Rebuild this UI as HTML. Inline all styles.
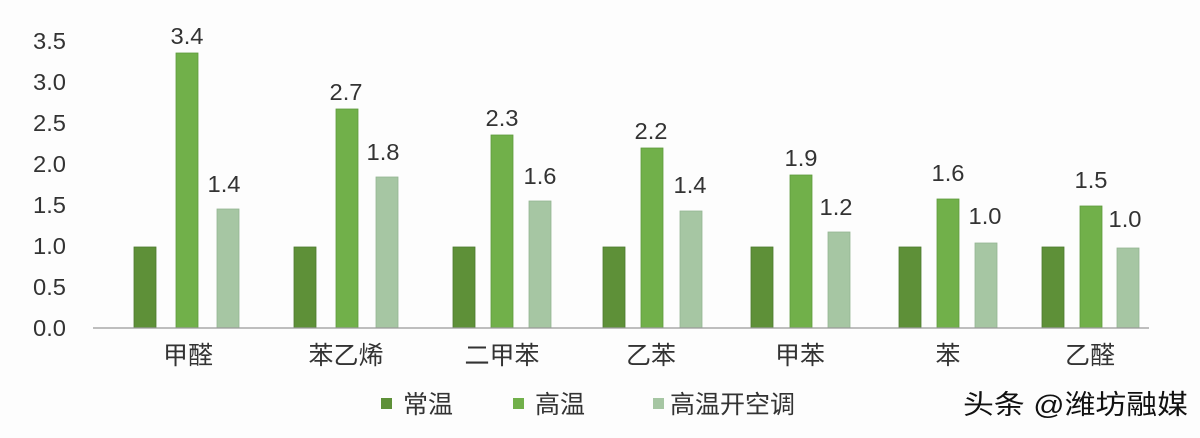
<!DOCTYPE html>
<html><head><meta charset="utf-8"><style>
html,body{margin:0;padding:0;background:#fdfdfd;}
svg{display:block}
text{font-family:"Liberation Sans","Noto Sans CJK SC",sans-serif;fill:#333}
</style></head><body>
<svg width="1200" height="438" viewBox="0 0 1200 438" xmlns="http://www.w3.org/2000/svg">
<rect width="1200" height="438" fill="#fdfdfd"/>
<g font-size="23" text-anchor="end">
<text x="66" y="336" textLength="33" lengthAdjust="spacingAndGlyphs">0.0</text>
<text x="66" y="295" textLength="33" lengthAdjust="spacingAndGlyphs">0.5</text>
<text x="66" y="254" textLength="33" lengthAdjust="spacingAndGlyphs">1.0</text>
<text x="66" y="213" textLength="33" lengthAdjust="spacingAndGlyphs">1.5</text>
<text x="66" y="172" textLength="33" lengthAdjust="spacingAndGlyphs">2.0</text>
<text x="66" y="131" textLength="33" lengthAdjust="spacingAndGlyphs">2.5</text>
<text x="66" y="90" textLength="33" lengthAdjust="spacingAndGlyphs">3.0</text>
<text x="66" y="49" textLength="33" lengthAdjust="spacingAndGlyphs">3.5</text>
</g>
<g stroke-width="0.8">
<!-- dark -->
<g fill="#5e9038" stroke="#4d7a2d">
<rect x="134" y="247" width="22" height="81"/>
<rect x="294" y="247" width="22" height="81"/>
<rect x="453" y="247" width="22" height="81"/>
<rect x="603" y="247" width="22" height="81"/>
<rect x="751" y="247" width="22" height="81"/>
<rect x="899" y="247" width="22" height="81"/>
<rect x="1042" y="247" width="22" height="81"/>
</g>
<g fill="#71b04a" stroke="#5e9a3c">
<rect x="176" y="53" width="22" height="275"/>
<rect x="336" y="109" width="22" height="219"/>
<rect x="491" y="135" width="22" height="193"/>
<rect x="641" y="148" width="22" height="180"/>
<rect x="790" y="175" width="22" height="153"/>
<rect x="937" y="199" width="22" height="129"/>
<rect x="1080" y="206" width="22" height="122"/>
</g>
<g fill="#a6c6a3" stroke="#94b592">
<rect x="217" y="209" width="22" height="119"/>
<rect x="376" y="177" width="22" height="151"/>
<rect x="529" y="201" width="22" height="127"/>
<rect x="680" y="211" width="22" height="117"/>
<rect x="828" y="232" width="22" height="96"/>
<rect x="975" y="243" width="22" height="85"/>
<rect x="1117" y="248" width="22" height="80"/>
</g>
</g>
<line x1="93" y1="328" x2="1149" y2="328" stroke="#999" stroke-width="1.2"/>
<g font-size="23" text-anchor="middle">
<text x="187" y="44" textLength="33" lengthAdjust="spacingAndGlyphs">3.4</text>
<text x="224" y="192" textLength="33" lengthAdjust="spacingAndGlyphs">1.4</text>
<text x="346" y="100" textLength="33" lengthAdjust="spacingAndGlyphs">2.7</text>
<text x="383" y="160" textLength="33" lengthAdjust="spacingAndGlyphs">1.8</text>
<text x="502" y="126" textLength="33" lengthAdjust="spacingAndGlyphs">2.3</text>
<text x="540" y="184" textLength="33" lengthAdjust="spacingAndGlyphs">1.6</text>
<text x="651" y="139" textLength="33" lengthAdjust="spacingAndGlyphs">2.2</text>
<text x="690" y="193" textLength="33" lengthAdjust="spacingAndGlyphs">1.4</text>
<text x="801" y="166" textLength="33" lengthAdjust="spacingAndGlyphs">1.9</text>
<text x="836" y="215" textLength="33" lengthAdjust="spacingAndGlyphs">1.2</text>
<text x="948" y="181" textLength="33" lengthAdjust="spacingAndGlyphs">1.6</text>
<text x="985" y="224" textLength="33" lengthAdjust="spacingAndGlyphs">1.0</text>
<text x="1091" y="188" textLength="33" lengthAdjust="spacingAndGlyphs">1.5</text>
<text x="1125" y="227" textLength="33" lengthAdjust="spacingAndGlyphs">1.0</text>
</g>
<g font-size="25" text-anchor="middle">
<text x="188" y="364">甲醛</text>
<text x="346" y="364">苯乙烯</text>
<text x="502" y="364">二甲苯</text>
<text x="651" y="364">乙苯</text>
<text x="800" y="364">甲苯</text>
<text x="948" y="364">苯</text>
<text x="1090" y="364">乙醛</text>
</g>
<rect x="381" y="398" width="11" height="11" fill="#5e9038"/>
<text x="403" y="413" font-size="25">常温</text>
<rect x="513" y="398" width="11" height="11" fill="#71b04a"/>
<text x="535" y="413" font-size="25">高温</text>
<rect x="653" y="398" width="11" height="11" fill="#a6c6a3"/>
<text x="670" y="413" font-size="25">高温开空调</text>
<text x="963" y="414" font-size="27" style="fill:#111" textLength="225" lengthAdjust="spacingAndGlyphs">头条 @潍坊融媒</text>
</svg>
</body></html>
